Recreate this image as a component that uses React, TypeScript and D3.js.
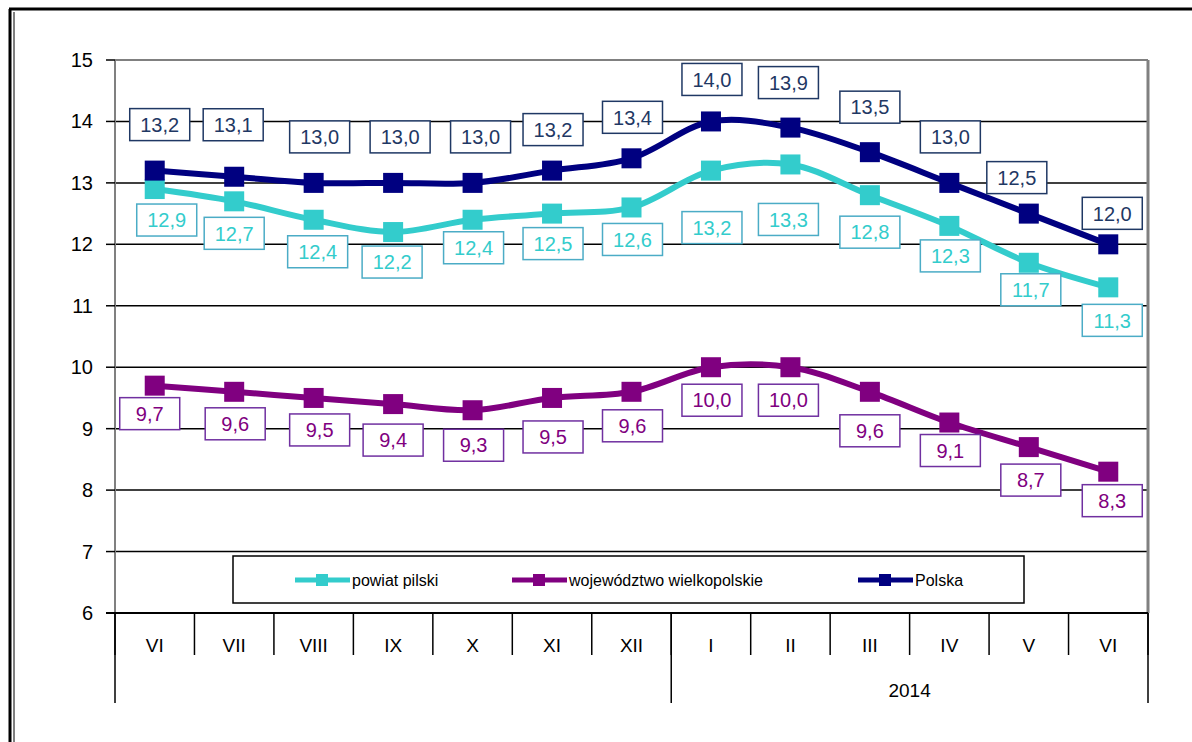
import React from "react";
import * as d3 from "d3";

// data (unemployment rate, %)
const months = ["VI", "VII", "VIII", "IX", "X", "XI", "XII", "I", "II", "III", "IV", "V", "VI"];
const yearLabels = [
  { label: "", from: 0, to: 7 },
  { label: "2014", from: 7, to: 13 },
];
const pilski = [12.9, 12.7, 12.4, 12.2, 12.4, 12.5, 12.6, 13.2, 13.3, 12.8, 12.3, 11.7, 11.3];
const wielkopolskie = [9.7, 9.6, 9.5, 9.4, 9.3, 9.5, 9.6, 10.0, 10.0, 9.6, 9.1, 8.7, 8.3];
const polska = [13.2, 13.1, 13.0, 13.0, 13.0, 13.2, 13.4, 14.0, 13.9, 13.5, 13.0, 12.5, 12.0];
const yTicks = [6, 7, 8, 9, 10, 11, 12, 13, 14, 15];

// label nudges (px) relative to each point
const polskaDx = [5, -1, 6, 7, 8, 1, 1, 1, -2, 0, 1, -12, 4];
const polskaDy = [-46, -52, -46, -46, -46, -41, -41, -42, -45, -45, -46, -36, -31];
const pilskiDx = [12, 0, 4, -1, 1, 1, 1, 1, -2, 0, 1, 2, 4];
const pilskiDy = [31, 32, 32, 30, 28, 30, 32, 57, 55, 37, 30, 27, 33];
const wlkpDx = [-5, 1, 6, 0, 1, 1, 1, 1, -2, 0, 1, 2, 4];
const wlkpDy = [28, 32, 32, 36, 35, 39, 34, 33, 33, 39, 28, 33, 29];

const series = [
  { name: "powiat pilski", values: pilski, color: "#33CCCC", box: "#4BACC6", text: "#33CCCC", dx: pilskiDx, dy: pilskiDy },
  { name: "województwo wielkopolskie", values: wielkopolskie, color: "#800080", box: "#7030A0", text: "#800080", dx: wlkpDx, dy: wlkpDy },
  { name: "Polska", values: polska, color: "#000080", box: "#1F3864", text: "#1F3864", dx: polskaDx, dy: polskaDy },
];

const W = 1192;
const H = 742;
const left = 115;
const right = 1148;
const top = 60;
const bottom = 613;
const font = "'Liberation Sans', Arial, sans-serif";
const narrow = "'Liberation Sans Narrow', 'Liberation Sans', Arial, sans-serif";

const fmt = (v: number) => v.toFixed(1).replace(".", ",");

export default function App() {
  const x = d3
    .scaleBand<number>()
    .domain(d3.range(months.length))
    .range([left, right]);
  const y = d3.scaleLinear().domain([6, 15]).range([bottom, top]);
  const cx = (i: number) => (x(i) as number) + x.bandwidth() / 2;

  const line = d3
    .line<number>()
    .x((_, i) => cx(i))
    .y((d) => y(d))
    .curve(d3.curveCatmullRom.alpha(0.5));

  const edges = d3.range(months.length + 1).map((i) => left + i * x.bandwidth());

  const legendItems = [
    { s: series[0], x: 295 },
    { s: series[1], x: 512 },
    { s: series[2], x: 858 },
  ];

  return (
    <svg
      width={W}
      height={H}
      style={{ position: "absolute", left: 0, top: 0, display: "block", background: "#fff" }}
    >
      {/* outer frame */}
      <line x1={9} x2={W} y1={9} y2={9} stroke="#000" strokeWidth={3} />
      <line x1={10} x2={10} y1={9} y2={H} stroke="#000" strokeWidth={3} />
      <line x1={14} x2={14} y1={12} y2={H} stroke="#000" strokeWidth={1} />

      {/* gridlines */}
      {yTicks.filter((t) => t > 6 && t < 15).map((t) => (
        <line key={t} x1={left} x2={right} y1={y(t)} y2={y(t)} stroke="#000" strokeWidth={1.5} />
      ))}

      {/* plot border */}
      <line x1={left} x2={right} y1={top} y2={top} stroke="#808080" strokeWidth={2} />
      <line x1={left} x2={left} y1={top} y2={bottom} stroke="#808080" strokeWidth={2} />
      <line x1={right} x2={right} y1={top} y2={bottom} stroke="#808080" strokeWidth={3} />

      {/* y axis ticks and labels */}
      {yTicks.map((t) => (
        <g key={t}>
          <line x1={106} x2={left} y1={y(t)} y2={y(t)} stroke="#000" strokeWidth={1.5} />
          <text
            x={93}
            y={y(t)}
            dy="0.35em"
            textAnchor="end"
            fontFamily={font}
            fontSize={20}
            fill="#000"
          >
            {t}
          </text>
        </g>
      ))}

      {/* x axis */}
      <line x1={106} x2={right} y1={bottom} y2={bottom} stroke="#000" strokeWidth={2} />
      {edges.map((ex, i) => (
        <line key={i} x1={ex} x2={ex} y1={bottom} y2={655} stroke="#000" strokeWidth={1.5} />
      ))}
      {yearLabels.map((g, i) => (
        <line
          key={"g" + i}
          x1={edges[g.from]}
          x2={edges[g.from]}
          y1={bottom}
          y2={703}
          stroke="#000"
          strokeWidth={1.5}
        />
      ))}
      <line x1={right} x2={right} y1={bottom} y2={703} stroke="#000" strokeWidth={1.5} />
      {months.map((m, i) => (
        <text
          key={i}
          x={cx(i)}
          y={645}
          dy="0.35em"
          textAnchor="middle"
          fontFamily={narrow}
          fontSize={19}
          fill="#000"
        >
          {m}
        </text>
      ))}
      {yearLabels.map((g, i) => (
        <text
          key={"y" + i}
          x={(edges[g.from] + edges[g.to]) / 2}
          y={690}
          dy="0.35em"
          textAnchor="middle"
          fontFamily={narrow}
          fontSize={19}
          fill="#000"
        >
          {g.label}
        </text>
      ))}

      {/* series lines and markers */}
      {series.map((s) => (
        <g key={s.name}>
          <path d={line(s.values) || ""} fill="none" stroke={s.color} strokeWidth={6} />
          {s.values.map((v, i) => (
            <rect key={i} x={cx(i) - 10} y={y(v) - 10} width={20} height={20} fill={s.color} />
          ))}
        </g>
      ))}

      {/* data labels */}
      {series.map((s) => (
        <g key={s.name + "-labels"}>
          {s.values.map((v, i) => {
            const lx = cx(i) + s.dx[i];
            const ly = y(v) + s.dy[i];
            return (
              <g key={i}>
                <rect x={lx - 30} y={ly - 16} width={60} height={32} fill="#fff" stroke={s.box} strokeWidth={1.5} />
                <text
                  x={lx}
                  y={ly}
                  dy="0.36em"
                  textAnchor="middle"
                  fontFamily={font}
                  fontSize={20}
                  fill={s.text}
                >
                  {fmt(v)}
                </text>
              </g>
            );
          })}
        </g>
      ))}

      {/* legend */}
      <rect x={233} y={556} width={791} height={47} fill="#fff" stroke="#000" strokeWidth={1.5} />
      {legendItems.map(({ s, x: lxp }) => (
        <g key={s.name + "-leg"}>
          <line x1={lxp} x2={lxp + 55} y1={580} y2={580} stroke={s.color} strokeWidth={5} />
          <rect x={lxp + 21} y={574} width={12} height={12} fill={s.color} />
          <text x={lxp + 57} y={580} dy="0.35em" fontFamily={narrow} fontSize={16} fill="#000">
            {s.name}
          </text>
        </g>
      ))}
    </svg>
  );
}
